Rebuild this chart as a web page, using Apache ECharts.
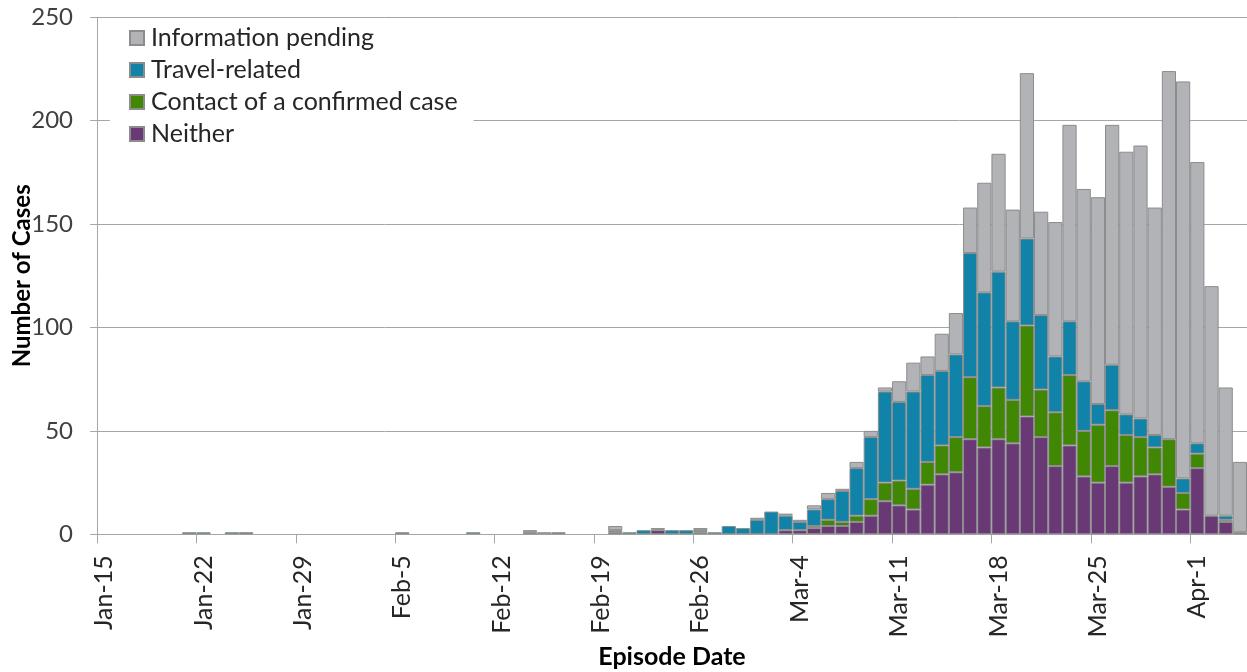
<!DOCTYPE html>
<html><head><meta charset="utf-8">
<script src="https://cdn.jsdelivr.net/npm/echarts@6/dist/echarts.min.js"></script>
<style>html,body{margin:0;padding:0;background:#fff}#c{width:1247px;height:672px}</style>
</head><body><div id="c"></div>
<script>
const dates = [
 'Jan-15','Jan-16','Jan-17','Jan-18','Jan-19','Jan-20','Jan-21','Jan-22','Jan-23','Jan-24',
 'Jan-25','Jan-26','Jan-27','Jan-28','Jan-29','Jan-30','Jan-31','Feb-1','Feb-2','Feb-3',
 'Feb-4','Feb-5','Feb-6','Feb-7','Feb-8','Feb-9','Feb-10','Feb-11','Feb-12','Feb-13',
 'Feb-14','Feb-15','Feb-16','Feb-17','Feb-18','Feb-19','Feb-20','Feb-21','Feb-22','Feb-23',
 'Feb-24','Feb-25','Feb-26','Feb-27','Feb-28','Feb-29','Mar-1','Mar-2','Mar-3','Mar-4',
 'Mar-5','Mar-6','Mar-7','Mar-8','Mar-9','Mar-10','Mar-11','Mar-12','Mar-13','Mar-14',
 'Mar-15','Mar-16','Mar-17','Mar-18','Mar-19','Mar-20','Mar-21','Mar-22','Mar-23','Mar-24',
 'Mar-25','Mar-26','Mar-27','Mar-28','Mar-29','Mar-30','Mar-31','Apr-1','Apr-2','Apr-3',
 'Apr-4'];

const neither = [
 0,0,0,0,0,0,0,0,0,0,
 1,0,0,0,0,0,0,0,0,0,
 0,0,0,0,0,0,0,0,0,0,
 0,0,0,0,0,0,1,0,0,2,
 0,0,0,0,0,0,0,0,2,2,
 3,4,4,6,9,16,14,12,24,29,
 30,46,42,46,44,57,47,33,43,28,
 25,33,25,28,29,23,12,32,9,6,
 0];
const contact = [
 0,0,0,0,0,0,0,0,0,0,
 0,0,0,0,0,0,0,0,0,0,
 0,0,0,0,0,0,0,0,0,0,
 0,0,0,0,0,0,1,0,0,0,
 0,0,1,0,0,0,0,0,0,0,
 1,3,2,3,8,9,12,10,11,14,
 17,30,20,25,21,44,23,26,34,22,
 28,27,23,19,13,23,8,7,0,1,
 1];
const travel = [
 0,0,0,0,0,0,1,1,0,1,
 0,0,0,0,0,0,0,0,0,0,
 0,1,0,0,0,0,1,0,0,0,
 1,0,1,0,0,0,0,1,2,0,
 2,2,1,1,4,3,7,11,7,4,
 8,10,15,23,30,44,38,47,42,36,
 40,60,55,56,38,42,36,27,26,24,
 10,22,10,9,6,0,7,5,0,2,
 0];
const pending = [
 0,0,0,0,0,0,0,0,0,0,
 0,0,0,0,0,0,0,0,0,0,
 0,0,0,0,0,0,0,0,0,0,
 1,1,0,0,0,0,2,0,0,1,
 0,0,1,0,0,0,1,0,1,1,
 2,3,1,3,3,2,10,14,9,18,
 20,22,53,57,54,80,50,65,95,93,
 100,116,127,132,110,178,192,136,111,62,
 34];

const seriesNames = ['Neither','Contact of a confirmed case','Travel-related','Information pending'];
const seriesColors = ['#683975','#408704','#1182A8','#B1B3B7'];
const seriesValues = [neither, contact, travel, pending];
const legendOrder = ['Information pending','Travel-related','Contact of a confirmed case','Neither'];

const FONT = 'Lato';
const chart = echarts.init(document.getElementById('c'), null, {renderer:'canvas'});
chart.setOption({
  animation:false,
  backgroundColor:'#ffffff',
  grid:{left:97, right:0, top:17.3, bottom:137.7, containLabel:false, outerBoundsMode:'none'},
  legend:{
    data:legendOrder, orient:'vertical', left:110, top:20,
    padding:[2,16,4,19], backgroundColor:'#ffffff',
    itemWidth:14, itemHeight:14, itemGap:0,
    icon:'rect',
    textStyle:{fontFamily:FONT, fontSize:25, color:'#262626', lineHeight:32, padding:[0,0,0,2]}
  },
  xAxis:{
    type:'category', data:dates, boundaryGap:true,
    name:'Episode Date', nameLocation:'middle', nameGap:110, nameMoveOverlap:false,
    nameTextStyle:{fontFamily:FONT, fontSize:25, fontWeight:'bold', color:'#000'},
    axisLine:{lineStyle:{color:'#a6a6a6', width:1}},
    axisTick:{show:true, length:9, interval:6, lineStyle:{color:'#a6a6a6'}},
    axisLabel:{interval:6, rotate:90, margin:21, fontFamily:FONT, fontSize:25, color:'#262626'}
  },
  yAxis:{
    type:'value', min:0, max:250, interval:50,
    name:'Number of Cases', nameLocation:'middle', nameGap:63, nameRotate:90, nameMoveOverlap:false,
    nameTextStyle:{fontFamily:FONT, fontSize:24, fontWeight:'bold', color:'#000'},
    axisLine:{show:true, lineStyle:{color:'#a6a6a6', width:1}},
    axisTick:{show:true, length:7, lineStyle:{color:'#a6a6a6'}},
    axisLabel:{margin:24, fontFamily:FONT, fontSize:24, color:'#404040'},
    splitLine:{show:true, lineStyle:{color:'#a6a6a6', width:1}}
  },
  series: seriesNames.map((n,i)=>({
    name:n, type:'bar', stack:'cases', barCategoryGap:'0%', barGap:'0%',
    itemStyle:{color:seriesColors[i], borderColor:'#8c8c8c', borderWidth:1},
    emphasis:{disabled:true},
    data: seriesValues[i].map(v => v === 0 ? null : v)
  }))
});
</script></body></html>
